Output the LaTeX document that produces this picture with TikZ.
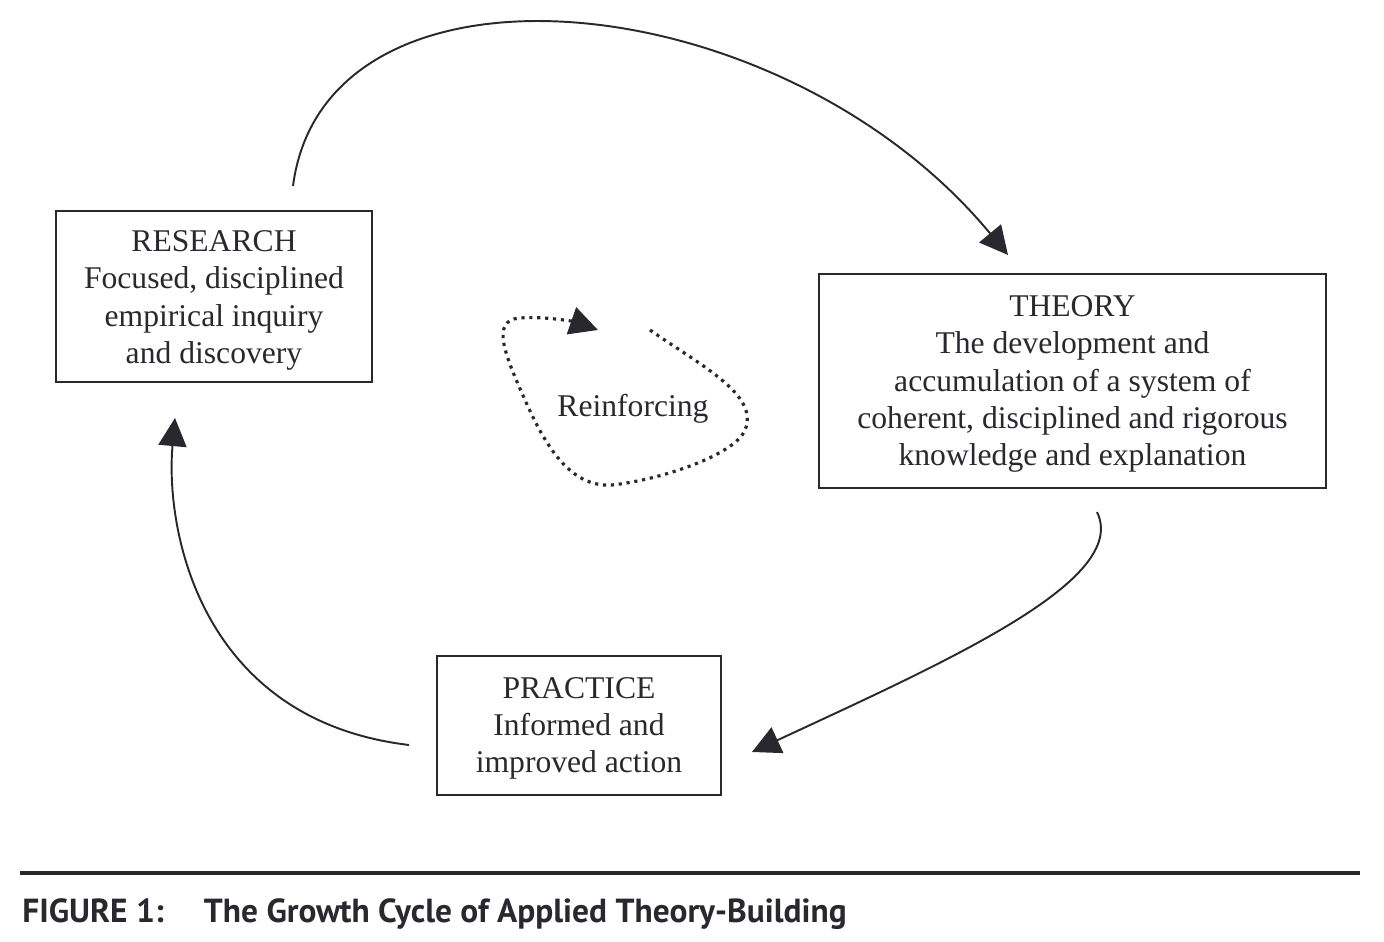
\documentclass[tikz,border=0pt]{standalone}
\usepackage{fontspec}
\setmainfont{Liberation Serif}
\newfontfamily\capfont{PT Sans}
\usetikzlibrary{arrows.meta}
\definecolor{ink}{RGB}{40,40,46}
\begin{document}
\begin{tikzpicture}[x=0.02cm,y=-0.02cm,
  box/.style={draw=ink, line width=0.9pt, inner sep=0pt},
  lbl/.style={text=ink, align=center, inner sep=0pt, font=\fontsize{18}{21.2}\selectfont},
  tip/.style={-{Triangle[length=16pt,width=16pt]}},
  flow/.style={draw=ink, line width=1.1pt, tip},
  dotloop/.style={draw=ink, line width=1.8pt, dash pattern=on 1.8pt off 2.7pt, tip}
]
\useasboundingbox (0,0) rectangle (1384,942);

\node[box, minimum width=6.32cm, minimum height=3.42cm] (research) at (214,296.5) {};
\node[lbl] (researchtxt) at ([yshift=-4*0.02cm]research.center)
  {RESEARCH\\Focused, disciplined\\empirical inquiry\\and discovery};
\node[box, minimum width=10.14cm, minimum height=4.28cm] (theory) at (1072.5,381) {};
\node[lbl] (theorytxt) at ([yshift=-3*0.02cm]theory.center)
  {THEORY\\The development and\\accumulation of a system of\\coherent, disciplined and rigorous\\knowledge and explanation};
\node[box, minimum width=5.68cm, minimum height=2.78cm] (practice) at (579,725.5) {};
\node[lbl] (practicetxt) at ([yshift=-3*0.02cm]practice.center)
  {PRACTICE\\Informed and\\improved action};
\node[lbl] (reinf) at (633,409) {Reinforcing};

\coordinate (rs) at (293,186);
\coordinate (te) at (1008,255);
\coordinate (ts) at (1097,512);
\coordinate (pe) at (752,752);
\coordinate (ps) at (409,745);
\coordinate (re) at (175,418);
\coordinate (ls) at (650,330);
\coordinate (le) at (598,330);

\draw[flow] (rs) .. controls (325,-60) and (780,-20) .. (te);
\draw[flow] (ts) .. controls (1130,580) and (950,660) .. (pe);
\draw[flow] (ps) .. controls (200,720) and (165,530) .. (re);

\draw[dotloop] (ls) .. controls (700,365) and (760,395) .. (745,430)
  .. controls (735,455) and (660,480) .. (612,485)
  .. controls (570,488) and (545,445) .. (525,400)
  .. controls (505,355) and (490,320) .. (520,318)
  .. controls (545,316) and (575,322) .. (le);

\coordinate (rl) at (20,873);
\coordinate (rr) at (1360,873);
\draw[ink, line width=2.3pt] (rl) -- (rr);

\node[anchor=base west, text=ink, inner sep=0pt, font=\capfont\bfseries\fontsize{19}{23}\selectfont] (cap) at (22,922)
  {FIGURE 1:\hspace{0.8cm}The Growth Cycle of Applied Theory-Building};
\end{tikzpicture}
\end{document}
